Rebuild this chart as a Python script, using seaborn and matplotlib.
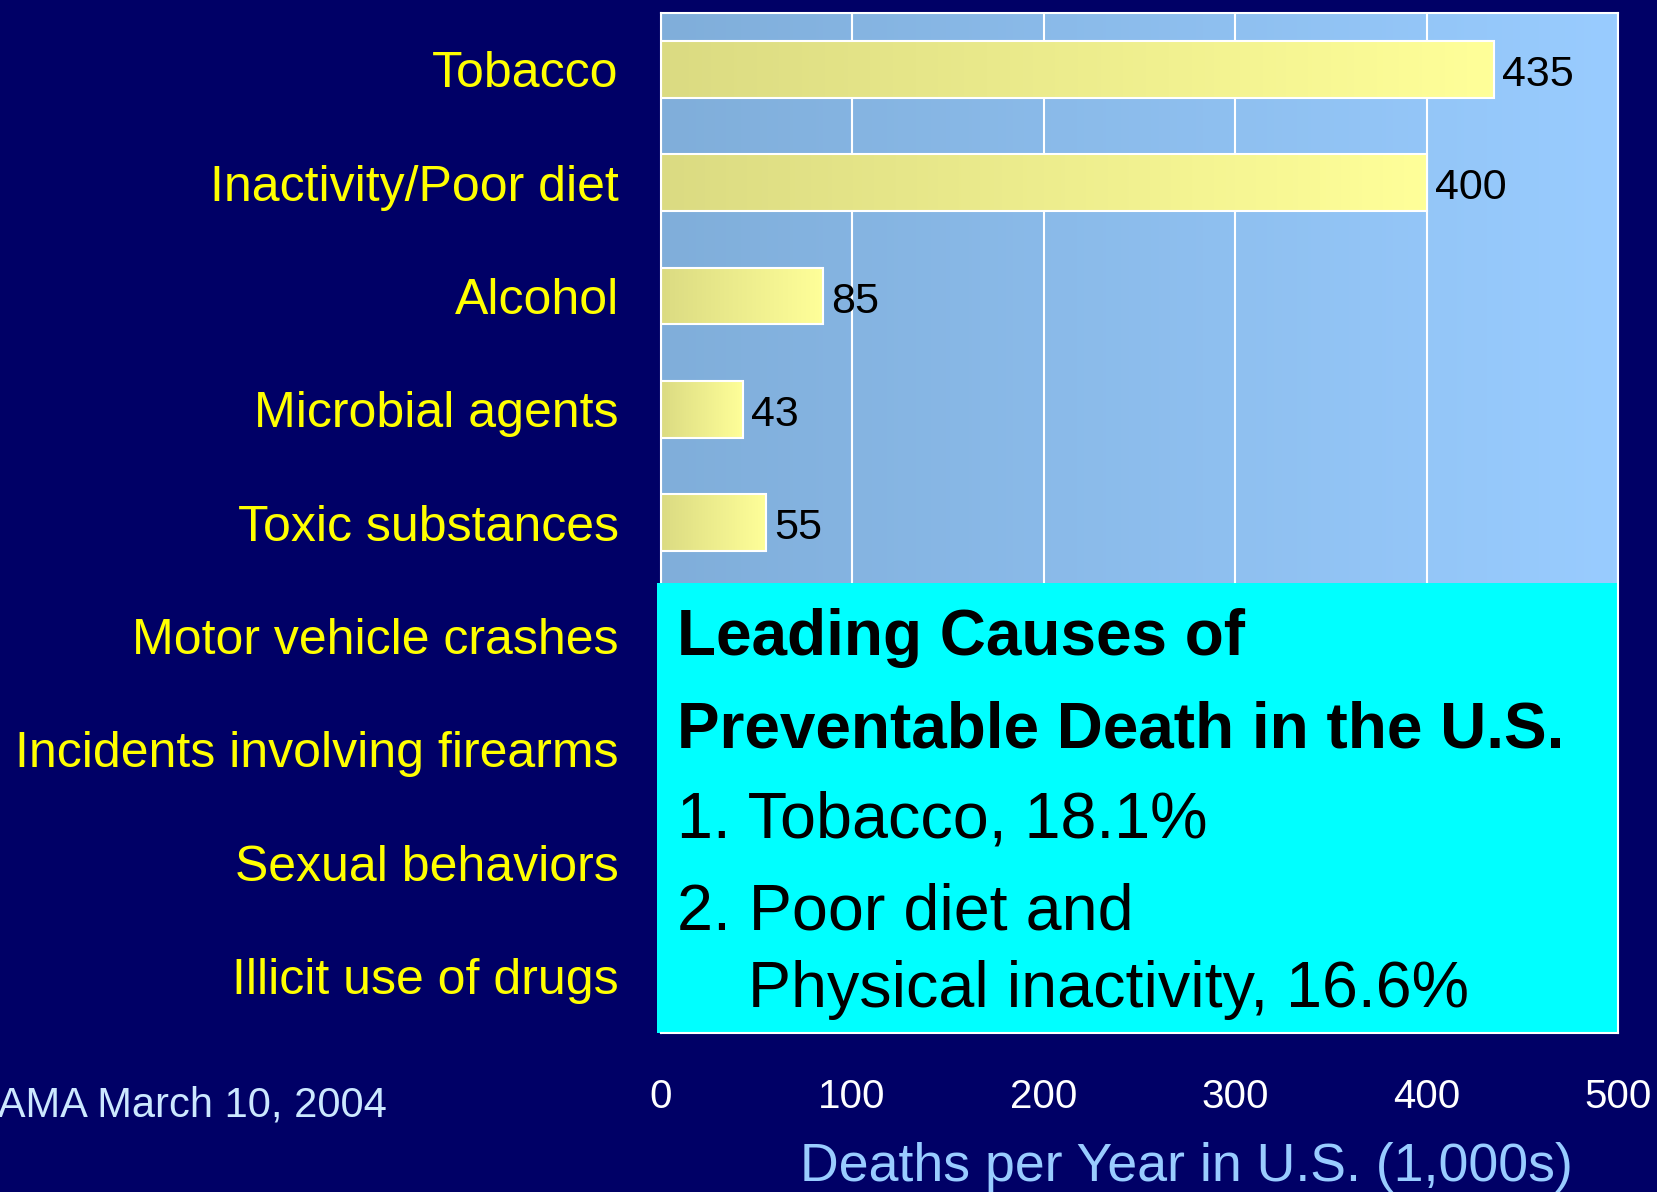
import numpy as np
import pandas as pd
import matplotlib
matplotlib.use("Agg")
import matplotlib.pyplot as plt
import seaborn as sns
from matplotlib.colors import LinearSegmentedColormap
from matplotlib.patches import Rectangle

# Deaths per year in the U.S. (thousands) by preventable cause
causes = ["Tobacco", "Inactivity/Poor diet", "Alcohol", "Microbial agents",
          "Toxic substances", "Motor vehicle crashes",
          "Incidents involving firearms", "Sexual behaviors",
          "Illicit use of drugs"]
deaths = [435, 400, 85, 43, 55, 43, 29, 20, 17]
x_ticks = [0, 100, 200, 300, 400, 500]
n_open_rows = 5  # rows above the summary callout

NAVY = "#000066"
W, H = 1657, 1192

sns.set_style("white")
plt.rcParams["font.family"] = ["Liberation Sans", "DejaVu Sans"]

fig = plt.figure(figsize=(W / 100, H / 100), dpi=100, facecolor=NAVY)
left, right, top, bottom = 660.5, 1618, 12.7, 1032.5
ax = fig.add_axes([left / W, 1 - bottom / H, (right - left) / W, (bottom - top) / H])

df = pd.DataFrame({"cause": causes, "deaths": deaths})
sns.barplot(data=df, y="cause", x="deaths", orient="h", width=0.5,
            color="#FFFF99", edgecolor="white", linewidth=1.5,
            ax=ax, zorder=3)

# horizontal gradient fill for the plot area and for every bar
grad = np.linspace(0, 1, 256).reshape(1, -1)
bg_cmap = LinearSegmentedColormap.from_list("bg", ["#80AEDA", "#99CCFF"])
bar_cmap = LinearSegmentedColormap.from_list("bar", ["#DBDB82", "#FFFF99"])

ax.imshow(grad, cmap=bg_cmap, extent=[0, 1, 0, 1], transform=ax.transAxes,
          aspect="auto", zorder=0, interpolation="bicubic")
for p in list(ax.patches):
    x0, y0, w, h = p.get_x(), p.get_y(), p.get_width(), p.get_height()
    im = ax.imshow(grad, cmap=bar_cmap, extent=[x0, x0 + w, y0 + h, y0],
                   aspect="auto", zorder=2.9, interpolation="bicubic")
    im.set_clip_path(p)
    p.set_facecolor("none")

ax.set_xlim(0, 500)
ax.set_ylim(len(causes) - 0.5, -0.5)
ax.set_aspect("auto")

# value labels at the end of each visible bar
for i, v in enumerate(deaths[:n_open_rows]):
    ax.annotate(str(v), xy=(v, i), xytext=(6, -4), textcoords="offset points",
                va="center", ha="left", fontsize=31, color="black", zorder=4)

# grid and spines
ax.set_axisbelow(True)
ax.xaxis.grid(True, color="white", linewidth=1.5)
ax.yaxis.grid(False)
for side in ["top", "left", "bottom", "right"]:
    ax.spines[side].set_color("white")
    ax.spines[side].set_linewidth(1.5)
    ax.spines[side].set_zorder(11)
ax.spines["left"].set_zorder(9)

ax.set_xticks(x_ticks)
ax.set_xticklabels([str(t) for t in x_ticks])
ax.tick_params(axis="x", colors="white", labelsize=29, length=14, width=1.5,
               pad=19, direction="out")
ax.set_yticks(range(len(causes)))
ax.set_yticklabels(causes)
ax.tick_params(axis="y", which="major", length=0, pad=30, labelsize=36,
               labelcolor="#FFFF00")
ax.set_yticks(np.arange(-0.5, len(causes), 1.0), minor=True)
ax.tick_params(axis="y", which="minor", length=16, width=1.5, color="white",
               direction="out")
ax.set_xlabel("")
ax.set_ylabel("")

# summary callout
ax.add_patch(Rectangle((-0.0037, 0), 1.0037, 0.441, transform=ax.transAxes,
                       facecolor="#00FFFF", edgecolor="none", zorder=10,
                       clip_on=False))


def ftext(x, y, s, **kw):
    fig.text(x / W, 1 - y / H, s, va="baseline", **kw)


ftext(677, 655, "Leading Causes of", fontsize=46, fontweight="bold", color="black")
ftext(677, 747, "Preventable Death in the U.S.", fontsize=46, fontweight="bold", color="black")
ftext(677, 838, "1. Tobacco, 18.1%", fontsize=46.5, color="black")
ftext(677, 930, "2. Poor diet and", fontsize=46.5, color="black")
ftext(748, 1007, "Physical inactivity, 16.6%", fontsize=46.5, color="black")

ftext(-23, 1117, "JAMA March 10, 2004", fontsize=30, color="#CCE8FF")
ftext(1186, 1181, "Deaths per Year in U.S. (1,000s)", fontsize=38.6,
      color="#99CCFF", ha="center")

fig.savefig("out.png", dpi=100, facecolor=NAVY)
